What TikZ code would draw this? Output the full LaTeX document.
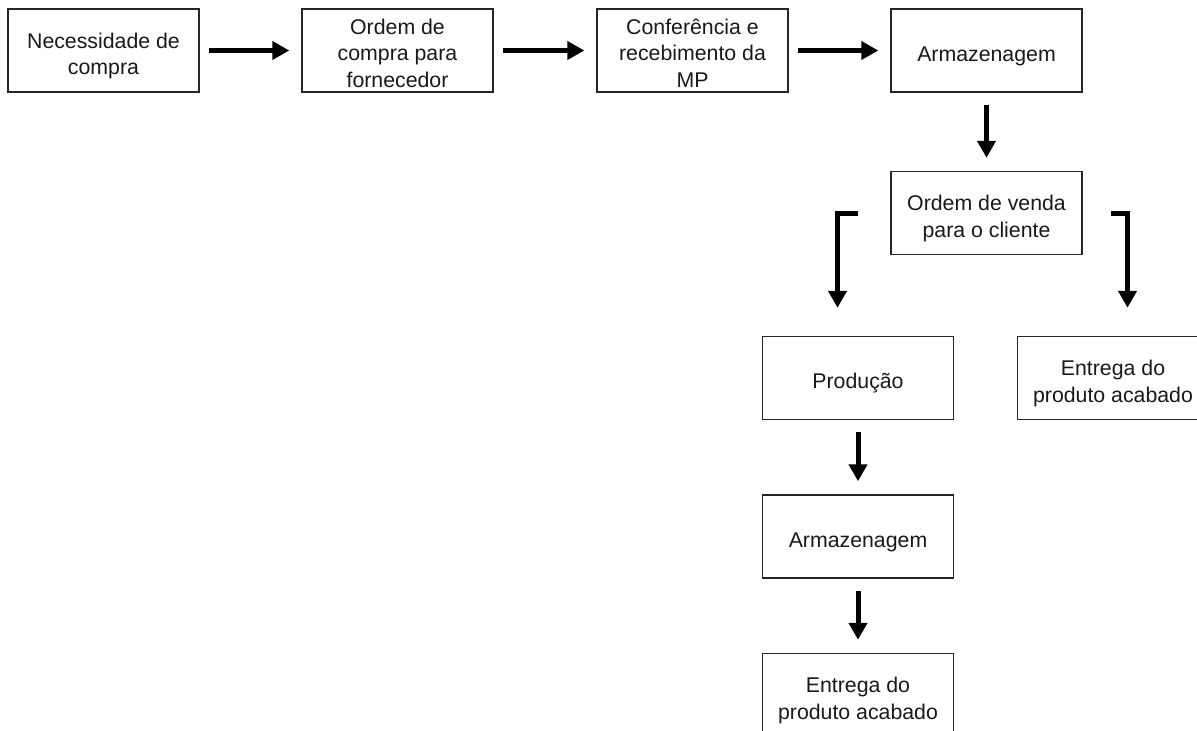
\documentclass[tikz,border=0pt]{standalone}
\usepackage{fontspec}
\setmainfont{Liberation Sans}
\usetikzlibrary{arrows.meta,positioning}

\begin{document}
\begin{tikzpicture}[%
	every node/.style={font=\fontsize{10.65}{13.25}\selectfont, text=black!90},
	>={Triangle[length=8.5pt,width=9pt]}, % Heavy block arrows
	node distance=80pt and 147pt,         % Global setup of box spacing
	]
	% -------------------------------------------------
	% Box and connector styles
	\tikzset{
		base/.style={draw=black!85, line width=0.75pt, on grid, align=center, inner ysep=0.8pt},
		% a taller text box pushes the text a little lower in the box
		proc/.style={base, rectangle, minimum width=95.5pt, minimum height=41.5pt,
			text height=12.8pt},
		two/.style={text height=26.4pt},
		three/.style={text height=36.8pt},
		% -------------------------------------------------
		% Connector line styles for different parts of the diagram
		norm/.style={->, draw, line width=2.5pt},
		horz/.style={norm, shorten <=4.5pt, shorten >=6pt},
		vert/.style={norm, shorten <=6pt, shorten >=6.5pt},
		side/.style={norm, shorten >=14pt},
	}
	\useasboundingbox (0,0) rectangle (598.5pt,-365pt);

	\node[proc, two] (p1) at (51.75pt,-25.25pt) {Necessidade de\\compra};
	\node[proc, three, right = 147pt of p1]   (p2) {Ordem de\\compra para\\fornecedor};
	\node[proc, three, right = 147.5pt of p2] (p3) {Conferência e\\recebimento da\\MP};
	\node[proc, right = 147pt of p3]          (p4) {Armazenagem};
	\node[proc, two, below = 81.25pt of p4]   (p5) {Ordem de venda\\para o cliente};

	\node[proc, below left = 82.5pt and 64.25pt of p5]       (p6) {Produção};
	\node[proc, two, below right = 82.5pt and 63.25pt of p5] (p7) {Entrega do\\produto acabado};
	\node[proc, below = 79.25pt of p6]      (p8) {Armazenagem};
	\node[proc, two, below = 79.25pt of p8] (p9) {Entrega do\\produto acabado};

	\draw[horz] (p1) -- (p2);
	\draw[horz] (p2) -- (p3);
	\draw[horz] (p3) -- (p4);
	\draw[vert] (p4) -- (p5);
	\draw[side, shorten <=16pt] (p5.west) -| ([xshift=-10.25pt]p6.north);
	\draw[side, shorten <=14pt] (p5.east) -| ([xshift=7.25pt]p7.north);
	\draw[vert] (p6) -- (p8);
	\draw[vert] (p8) -- (p9);

\end{tikzpicture}
\end{document}
